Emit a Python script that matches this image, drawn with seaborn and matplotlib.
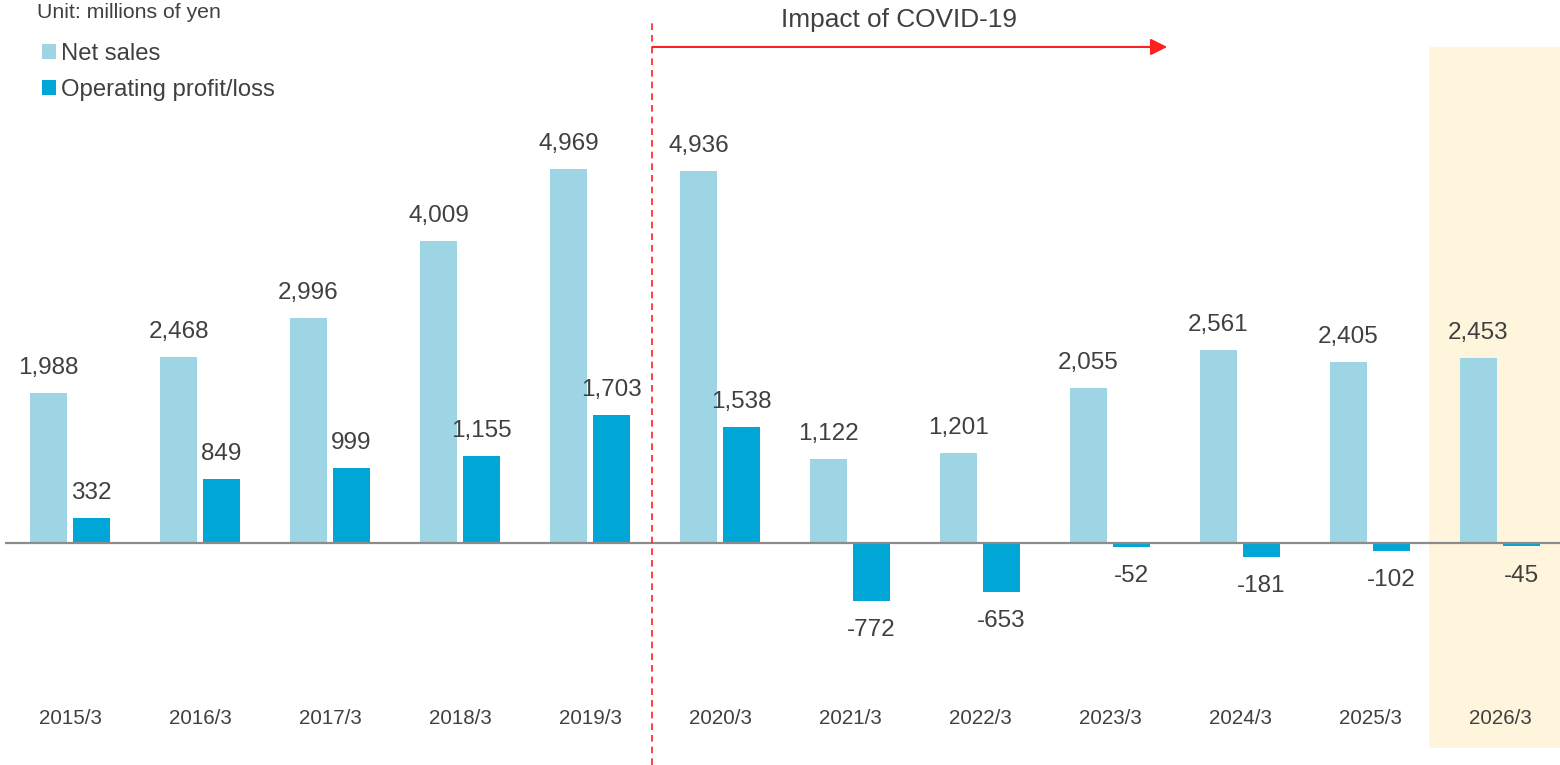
import matplotlib
matplotlib.use('Agg')
import matplotlib.pyplot as plt
import seaborn as sns
import pandas as pd

# chart values
years = ['2015/3', '2016/3', '2017/3', '2018/3', '2019/3', '2020/3',
         '2021/3', '2022/3', '2023/3', '2024/3', '2025/3', '2026/3']
net_sales = [1988, 2468, 2996, 4009, 4969, 4936, 1122, 1201, 2055, 2561, 2405, 2453]
op_profit = [332, 849, 999, 1155, 1703, 1538, -772, -653, -52, -181, -102, -45]
series_names = ['Net sales', 'Operating profit/loss']

df = pd.DataFrame({
    'year': years * 2,
    'value': net_sales + op_profit,
    'series': [series_names[0]] * len(years) + [series_names[1]] * len(years),
})

sns.set_theme(style='white')
plt.rcParams['font.family'] = ['Liberation Sans', 'DejaVu Sans']
text_color = '#404040'

fig = plt.figure(figsize=(15.6, 7.65), dpi=100)
ax = fig.add_axes([5 / 1560, 0, 1560 / 1560, 1])

# highlight for forecast year
ax.axvspan(10.45, 11.8, ymin=(2949 - 2723) / 10163, ymax=(2949 + 6590) / 10163,
           color='#FFF5DC', zorder=0, lw=0)

sns.barplot(data=df, x='year', y='value', hue='series', order=years,
            hue_order=series_names, palette=['#9DD5E5', '#00A6D6'], saturation=1,
            width=0.66, gap=0.15, linewidth=0, ax=ax, legend=True, zorder=2)

ax.set_xlim(-0.5, 11.5)
ax.set_ylim(-2949, 7214)
ax.axhline(0, color='#8c8c8c', lw=1.6, zorder=3)

# value labels
for cont in ax.containers:
    for bar, val in zip(cont, cont.datavalues):
        x = bar.get_x() + bar.get_width() / 2
        off = 18 if val >= 0 else -21
        ax.annotate(f'{val:,.0f}', (x, val), xytext=(0, off), textcoords='offset points',
                    ha='center', va='center', fontsize=17.5, color=text_color)

# category labels
for i, y in enumerate(years):
    ax.text(i, -2325, y, ha='center', va='center', fontsize=14.8, color=text_color)

# COVID marker
ax.plot([4.48, 4.48], [-2949, 6922], color='#FF2020', lw=1.2, ls=(0, (4, 3)), zorder=4)
ax.annotate('', xy=(8.44, 6590), xytext=(4.48, 6590),
            arrowprops=dict(arrowstyle='-|>', color='#FF2020', lw=1.5,
                            mutation_scale=25, shrinkA=0, shrinkB=0))
ax.text(6.38, 6950, 'Impact of COVID-19', ha='center', va='center', fontsize=18.9,
        color=text_color)

ax.set_axis_off()

fig.text(37 / 1560, 1 - 13 / 765, 'Unit: millions of yen', ha='left', va='center',
         fontsize=15.3, color=text_color)

handles, labels = ax.get_legend_handles_labels()
ax.legend(handles, labels, loc='upper left', bbox_to_anchor=(42 / 1560, 1 - 43 / 765),
          bbox_transform=fig.transFigure, frameon=False, fontsize=17.2,
          handlelength=0.6, handleheight=0.6, handletextpad=0.2, labelspacing=0.6,
          labelcolor=text_color, borderpad=0, borderaxespad=0)

fig.savefig('out.png', dpi=100)
